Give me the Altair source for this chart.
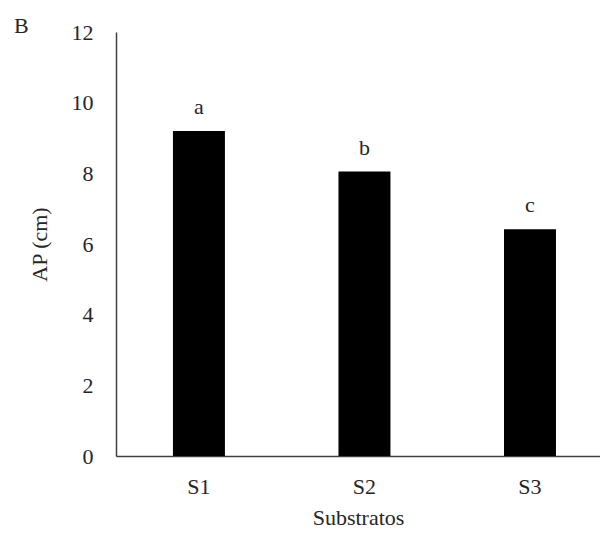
import altair as alt
import pandas as pd

substratos = ["S1", "S2", "S3"]
ap_cm = [9.2, 8.05, 6.42]
letras = ["a", "b", "c"]

df = pd.DataFrame({"Substratos": substratos, "AP": ap_cm, "letra": letras})

FONT = "Liberation Serif"
TXT = "#262626"
LINE = "#404040"
FS = 22

x = alt.X("Substratos:N", title="Substratos",
          scale=alt.Scale(paddingInner=0.686, paddingOuter=0.305, align=0.564),
          axis=alt.Axis(labelAngle=0, ticks=False, labelPadding=20, titlePadding=10,
                        domainColor=LINE, domainWidth=1.5))
y = alt.Y("AP:Q", title="AP (cm)",
          scale=alt.Scale(domain=[0, 12]),
          axis=alt.Axis(values=[0, 2, 4, 6, 8, 10, 12], ticks=False, grid=False,
                        labelPadding=23, titlePadding=20,
                        domainColor=LINE, domainWidth=1.5))

bars = alt.Chart(df).mark_bar(color="black").encode(x=x, y=y)
labels = alt.Chart(df).mark_text(font=FONT, fontSize=FS, color=TXT,
                                 baseline="alphabetic", dy=-17).encode(
    x="Substratos:N", y="AP:Q", text="letra:N")

chart = (bars + labels).properties(
    width=484, height=424,
    background="white",
    autosize=alt.AutoSizeParams(type="none"),
    padding={"left": 116, "top": 32, "right": 0, "bottom": 80},
    title=alt.TitleParams(text="B", anchor="start", frame="group", dx=-102,
                          offset=0, dy=34, baseline="alphabetic",
                          font=FONT, fontSize=FS, fontWeight="normal", color=TXT),
).configure_view(stroke=None).configure_axis(
    labelFont=FONT, titleFont=FONT, labelFontSize=FS, titleFontSize=FS,
    labelColor=TXT, titleColor=TXT, titleFontWeight="normal",
)

chart.save("out.html", embed_options={"renderer": "svg", "actions": False})
